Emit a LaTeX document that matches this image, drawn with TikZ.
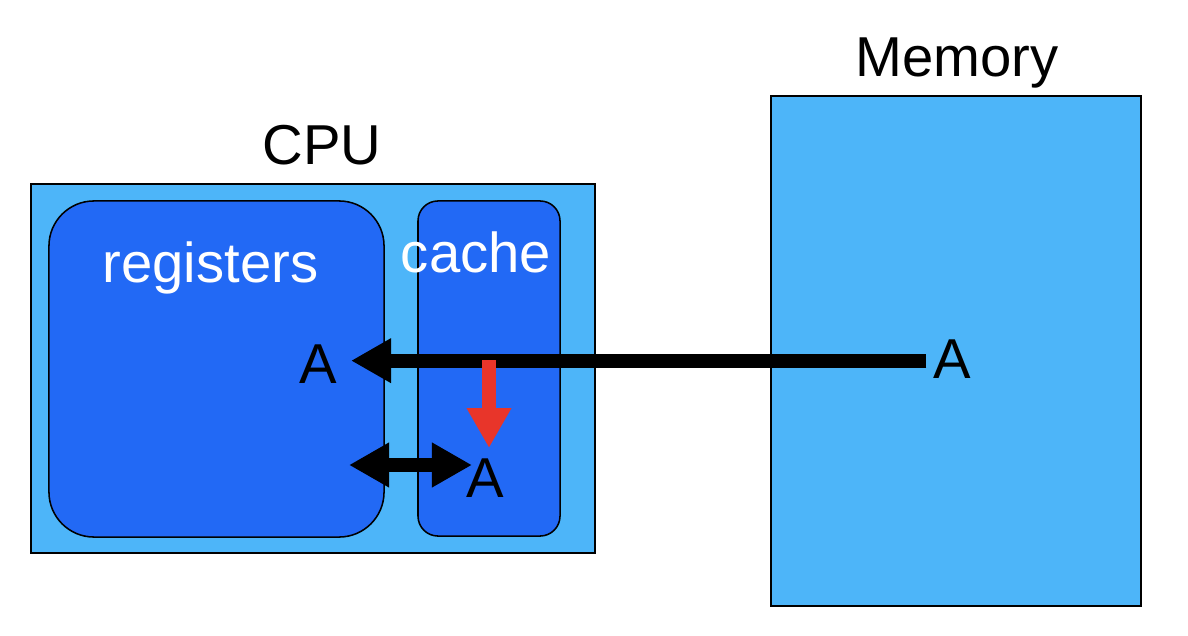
\documentclass[tikz,border=0pt]{standalone}
\usepackage{fontspec}
\setmainfont{Liberation Sans}
\usepackage{xcolor}
\usetikzlibrary{positioning, arrows.meta}

\definecolor{lightblue}{HTML}{4DB5F9}
\definecolor{darkblue}{HTML}{2269F5}
\definecolor{hitred}{HTML}{E8352A}

\begin{document}
\begin{tikzpicture}[x=0.025cm, y=-0.025cm,
       box/.style={draw=black, line width=1.1pt, inner sep=0pt},
       big/.style={font=\fontsize{40}{48}\selectfont, inner sep=0pt},
       fat/.style={line width=10pt, -{Triangle[length=1cm, width=1.05cm]}}]
       \useasboundingbox (0,0) rectangle (1188,636);

       % boxes
       \node[box, fill=lightblue, minimum width=14.1cm, minimum height=9.225cm] (cpu) at (313,368.5) {};
       \node[box, fill=darkblue, rounded corners=1.125cm, minimum width=8.375cm, minimum height=8.4cm] (regs) at (216.5,369) {};
       \node[box, fill=darkblue, rounded corners=0.5cm, minimum width=3.55cm, minimum height=8.375cm] (cache) at (489,368.5) {};
       \node[box, fill=lightblue, minimum width=9.25cm, minimum height=12.75cm] (mem) at (956,351) {};

       % labels
       \node[big, anchor=base] (cpulabel) at (322,165) {CPU};
       \node[big, anchor=base] (memlabel) at (957,77) {Memory};
       \node[big, anchor=base, text=white] (regslabel) at (210.5,282) {registers};
       \node[big, anchor=base, text=white] (cachelabel) at (476,272) {cache};
       \node[big, anchor=base] (regA) at (318,383) {A};
       \node[big, anchor=base] (cacheA) at (485,497) {A};
       \node[big, anchor=base] (memA) at (952.5,378) {A};

       \coordinate (hit) at (489,360);
       \coordinate (swapL) at (349,465);
       \coordinate (swapR) at (472,465);

       \draw[fat, shorten <=0.175cm, shorten >=0.35cm] ([yshift=-0.05cm]memA.west) -- ([yshift=-0.05cm]memA.west -| regA.east);
       \draw[fat, {Triangle[length=1cm, width=1.05cm]}-{Triangle[length=1cm, width=1.05cm]}] (swapL) -- (swapR);
       \draw[fat, hitred, shorten >=0.25cm] (hit) -- (hit |- cacheA.north);
    \end{tikzpicture}
\end{document}
